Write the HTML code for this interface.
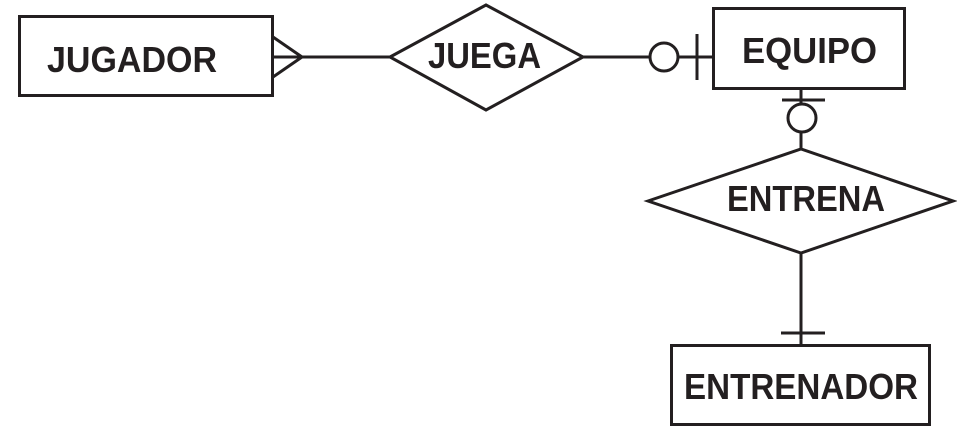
<!DOCTYPE html>
<html><head><meta charset="utf-8"><style>
html,body{margin:0;padding:0;background:#fff;}
svg{display:block;}
text{font-family:"Liberation Sans",sans-serif;font-weight:bold;fill:#231f20;}
</style></head><body>
<svg width="957" height="437" viewBox="0 0 957 437" xmlns="http://www.w3.org/2000/svg">
<g stroke="#231f20" stroke-width="3" fill="none">
  <rect x="19.5" y="16.5" width="253" height="79"/>
  <rect x="713.5" y="8.5" width="191" height="80"/>
  <rect x="671.5" y="345.5" width="258" height="79"/>
  <polygon points="390,57 486,5 583,57 486,110"/>
  <polygon points="648,201 801,149 953,201 801,253"/>
  <line x1="271" y1="57" x2="390" y2="57"/>
  <line x1="273" y1="37" x2="302" y2="57"/>
  <line x1="273" y1="77" x2="302" y2="57"/>
  <line x1="583" y1="57" x2="650" y2="57"/>
  <circle cx="664" cy="57" r="14"/>
  <line x1="678" y1="57" x2="713" y2="57"/>
  <line x1="697" y1="34" x2="697" y2="80"/>
  <line x1="801" y1="89" x2="801" y2="104"/>
  <line x1="782" y1="100" x2="825" y2="100"/>
  <circle cx="802" cy="118" r="14"/>
  <line x1="801" y1="132" x2="801" y2="149"/>
  <line x1="801" y1="253" x2="801" y2="345"/>
  <line x1="781" y1="333" x2="825" y2="333"/>
</g>
<text x="47" y="72" font-size="36" textLength="170" lengthAdjust="spacingAndGlyphs">JUGADOR</text>
<text x="428" y="68" font-size="36" textLength="113" lengthAdjust="spacingAndGlyphs">JUEGA</text>
<text x="742" y="63" font-size="36" textLength="135" lengthAdjust="spacingAndGlyphs">EQUIPO</text>
<text x="727" y="211" font-size="36" textLength="158" lengthAdjust="spacingAndGlyphs">ENTRENA</text>
<text x="684" y="399" font-size="36" textLength="234" lengthAdjust="spacingAndGlyphs">ENTRENADOR</text>
</svg>
</body></html>
